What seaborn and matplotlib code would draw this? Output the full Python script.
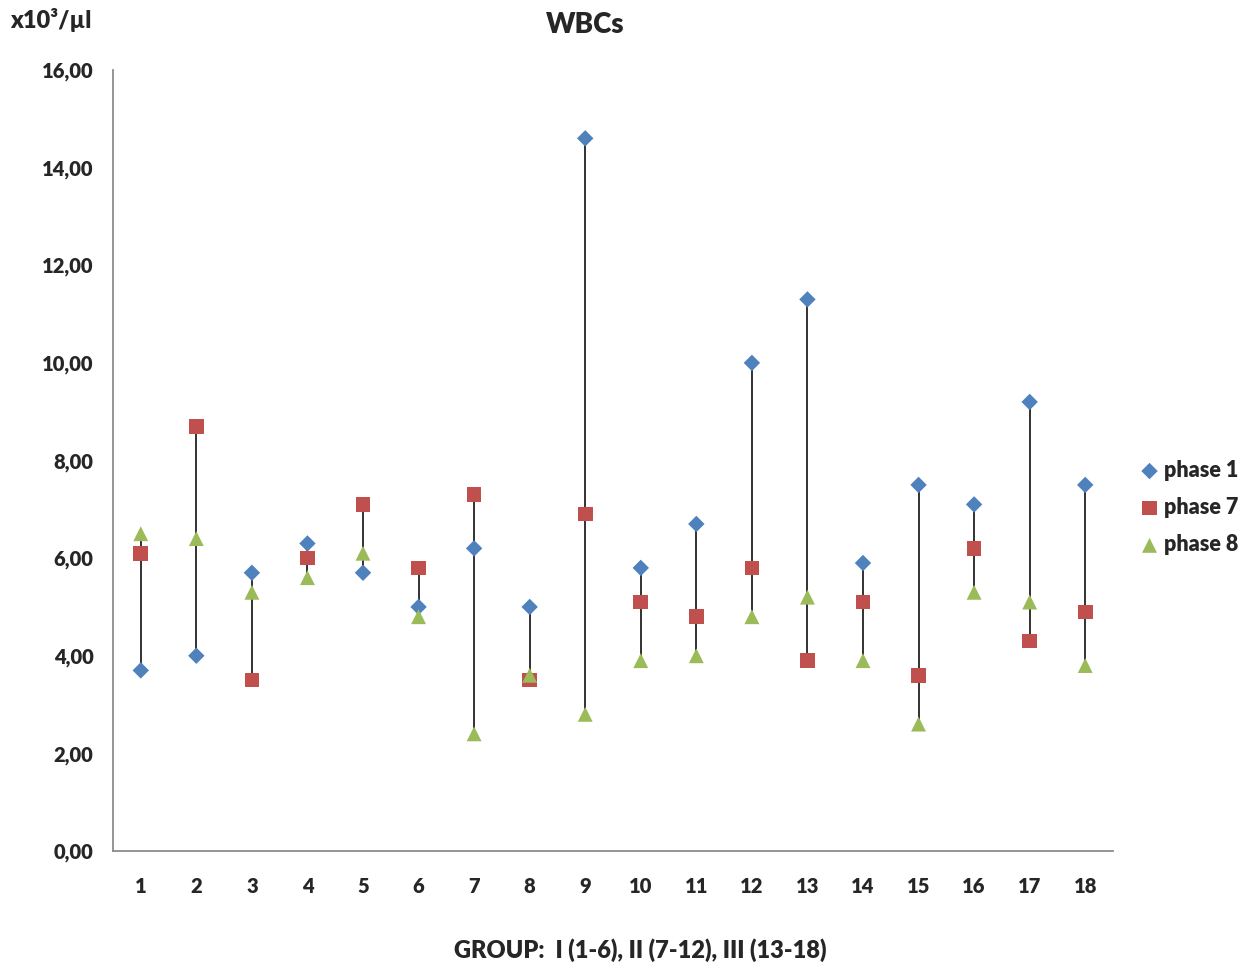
import numpy as np
import pandas as pd
import matplotlib
matplotlib.use("Agg")
import matplotlib.pyplot as plt
from matplotlib.ticker import FuncFormatter
import seaborn as sns

GROUPS = list(range(1, 19))
PHASE_1 = [3.7, 4.0, 5.7, 6.3, 5.7, 5.0, 6.2, 5.0, 14.6, 5.8, 6.7, 10.0, 11.3, 5.9, 7.5, 7.1, 9.2, 7.5]
PHASE_7 = [6.1, 8.7, 3.5, 6.0, 7.1, 5.8, 7.3, 3.5, 6.9, 5.1, 4.8, 5.8, 3.9, 5.1, 3.6, 6.2, 4.3, 4.9]
PHASE_8 = [6.5, 6.4, 5.3, 5.6, 6.1, 4.8, 2.4, 3.6, 2.8, 3.9, 4.0, 4.8, 5.2, 3.9, 2.6, 5.3, 5.1, 3.8]

SERIES = ["phase 1", "phase 7", "phase 8"]
COLORS = {"phase 1": "#4F81BD", "phase 7": "#C0504D", "phase 8": "#9BBB59"}
MARKERS = {"phase 1": "D", "phase 7": "s", "phase 8": "^"}
SIZES = {"phase 1": 70, "phase 7": 110, "phase 8": 115}

sns.set_theme(style="white")
plt.rcParams["font.family"] = ["Lato", "DejaVu Sans"]

df = pd.DataFrame({
    "group": GROUPS * 3,
    "value": PHASE_1 + PHASE_7 + PHASE_8,
    "phase": sum([[s] * len(GROUPS) for s in SERIES], []),
})

fig = plt.figure(figsize=(12.43, 9.63), dpi=100)
ax = fig.add_axes([113 / 1243, 1 - 851 / 963, 1000 / 1243, (851 - 70) / 963])

# high-low lines between the lowest and highest phase of each group
lo = df.groupby("group")["value"].min()
hi = df.groupby("group")["value"].max()
ax.vlines(lo.index, lo.values, hi.values, color="#222222", lw=1.3, zorder=1)

for s in SERIES:
    sub = df[df["phase"] == s]
    sns.scatterplot(data=sub, x="group", y="value", ax=ax, color=COLORS[s],
                    marker=MARKERS[s], s=SIZES[s], edgecolor="none",
                    label=s, zorder=3)

ax.set_xlim(0.5, 18.5)
ax.set_ylim(0, 16)
ax.set_xticks(GROUPS)
ax.set_xticklabels([str(g) for g in GROUPS])
ax.set_yticks(np.arange(0, 17, 2))
ax.yaxis.set_major_formatter(FuncFormatter(lambda v, p: f"{v:.2f}".replace(".", ",")))
ax.tick_params(axis="both", length=0, labelsize=14.5)
ax.tick_params(axis="x", pad=19)
ax.tick_params(axis="y", pad=14)
for lab in ax.get_xticklabels() + ax.get_yticklabels():
    lab.set_fontweight("heavy")

for side in ["top", "right"]:
    ax.spines[side].set_visible(False)
for side in ["left", "bottom"]:
    ax.spines[side].set_color("#8C8C8C")
    ax.spines[side].set_linewidth(1.3)

ax.set_xlabel("")
ax.set_ylabel("")

leg = ax.legend(loc="center left", bbox_to_anchor=(1.015, 0.44), frameon=False,
                fontsize=15.5, handletextpad=0.05, labelspacing=0.75,
                handlelength=1.2, borderaxespad=0)
for t in leg.get_texts():
    t.set_fontweight("heavy")

fig.text(585 / 1243, 1 - 25 / 963, "WBCs", ha="center", va="center",
         fontsize=20, fontweight="heavy")
fig.text(10 / 1243, 1 - 20 / 963, "x10³/µl", ha="left", va="center",
         fontsize=17, fontweight="heavy")
fig.text(640 / 1243, 1 - 950 / 963, "GROUP:  I (1-6), II (7-12), III (13-18)",
         ha="center", va="center", fontsize=17, fontweight="heavy")

fig.savefig("out.png", dpi=100, facecolor="white")
